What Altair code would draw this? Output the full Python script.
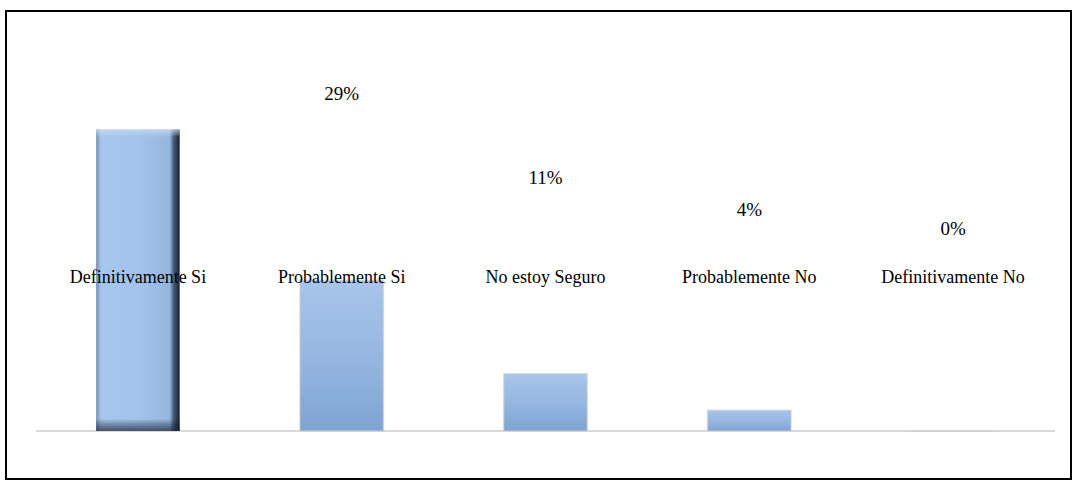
import altair as alt
import pandas as pd

categories = ["Definitivamente Si", "Probablemente Si", "No estoy Seguro",
              "Probablemente No", "Definitivamente No"]
values = [58, 29, 11, 4, 0]
value_labels = ["", "29%", "11%", "4%", "0%"]

df = pd.DataFrame({"category": categories, "value": values, "label": value_labels})

xscale = alt.Scale(domain=categories, range=[30, 1049], paddingInner=0.59, paddingOuter=0.295)
yscale = alt.Scale(domain=[0, 80], range=[420, 4])
lscale = alt.Scale(domain=[0, 40], range=[218, 31.6])

X = alt.X("category:N", scale=xscale, axis=None, sort=categories)

base = alt.Chart(df)

baseline = base.mark_rule(color="#d9d9d9", strokeWidth=2).encode(
    y=alt.Y(datum=0, scale=yscale, axis=None), x=alt.value(30), x2=alt.value(1049)
).transform_filter(alt.datum.category == categories[0])

normal_grad = alt.Gradient(
    gradient="linear", x1=0, x2=0, y1=0, y2=1,
    stops=[alt.GradientStop(color="#a8c5ea", offset=0),
           alt.GradientStop(color="#96b7e1", offset=0.5),
           alt.GradientStop(color="#7ea4d3", offset=1)])

bars = base.mark_bar(color=normal_grad, stroke="#d0d0d0", strokeWidth=1.5, strokeOpacity=0.6).encode(
    x=X, y=alt.Y("value:Q", scale=yscale, axis=None)
).transform_filter(alt.datum.category != categories[0])

first_h = alt.Gradient(
    gradient="linear", x1=0, x2=1, y1=0, y2=0,
    stops=[alt.GradientStop(color="#7890b0", offset=0),
           alt.GradientStop(color="#a7c6ee", offset=0.06),
           alt.GradientStop(color="#a3c3eb", offset=0.5),
           alt.GradientStop(color="#96b6e0", offset=0.88),
           alt.GradientStop(color="#44597a", offset=0.93),
           alt.GradientStop(color="#18202b", offset=1)])

first_v = alt.Gradient(
    gradient="linear", x1=0, x2=0, y1=0, y2=1,
    stops=[alt.GradientStop(color="rgba(200,218,242,0.8)", offset=0),
           alt.GradientStop(color="rgba(200,218,242,0)", offset=0.025),
           alt.GradientStop(color="rgba(0,0,0,0)", offset=0.96),
           alt.GradientStop(color="rgba(25,35,50,0.7)", offset=1)])

first_bar = base.mark_bar(color=first_h).encode(
    x=X, y=alt.Y("value:Q", scale=yscale, axis=None)
).transform_filter(alt.datum.category == categories[0])

first_bevel = base.mark_bar(color=first_v).encode(
    x=X, y=alt.Y("value:Q", scale=yscale, axis=None)
).transform_filter(alt.datum.category == categories[0])

cat_text = base.mark_text(font="Liberation Serif", fontSize=18, color="#000000",
                          baseline="middle", align="center").encode(
    x=X, y=alt.value(267), text="category:N"
)

val_text = base.mark_text(font="Liberation Serif", fontSize=19, color="#000000",
                          baseline="middle", align="center").encode(
    x=X, y=alt.Y("value:Q", scale=lscale, axis=None), text="label:N"
).transform_filter(alt.datum.label != "")

chart = alt.layer(baseline, bars, first_bar, first_bevel, cat_text, val_text).resolve_scale(
    y="independent"
).properties(
    width=1065, height=468,
    padding={"left": 6, "top": 11, "right": 4, "bottom": 4},
    autosize=alt.AutoSizeParams(type="none"),
    background="#ffffff",
).configure_view(stroke="#000000", strokeWidth=2)

chart.save("out.html", embed_options={"renderer": "svg", "actions": False})
